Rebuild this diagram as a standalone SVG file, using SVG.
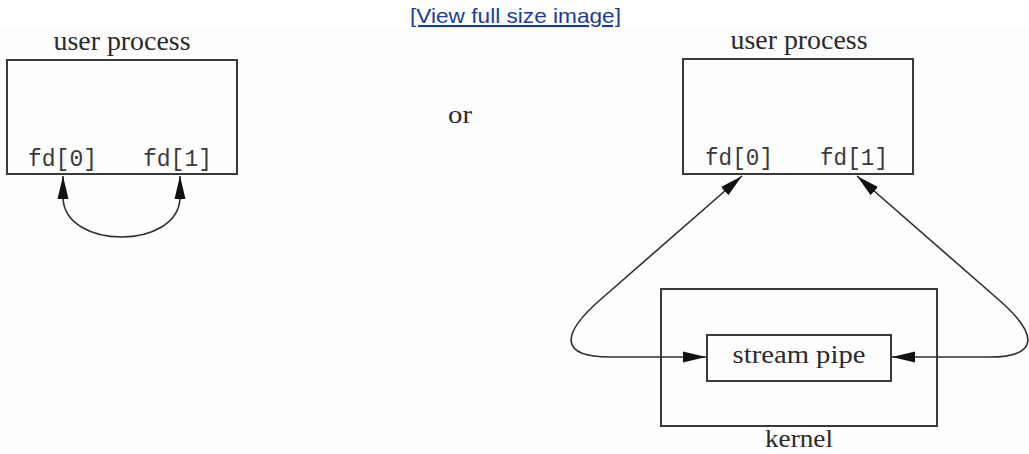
<svg xmlns="http://www.w3.org/2000/svg" width="1029" height="454" viewBox="0 0 1029 454">
<defs>
<style>
.box{fill:none;stroke:#3a3a3a;stroke-width:2}
.ser{font-family:"Liberation Serif","DejaVu Serif",serif;fill:#2a2a2a;text-anchor:middle}
.mono{font-family:"Liberation Mono","DejaVu Sans Mono",monospace;font-size:23px;fill:#3a3a3a}
.conn{fill:none;stroke:#2f2f2f;stroke-width:1.6}
.link{font-family:"Liberation Sans",Arial,sans-serif;font-size:21px;fill:#1a3d9c;text-decoration:underline;text-anchor:middle}
</style>
<marker id="ah" markerUnits="userSpaceOnUse" markerWidth="24" markerHeight="12" viewBox="0 0 24 12" refX="23" refY="6" orient="auto-start-reverse">
<path d="M0,0.5 L23,6 L0,11.5 z" fill="#111"/>
</marker>
</defs>
<rect x="0" y="0" width="1029" height="454" fill="#ffffff"/>
<rect x="0" y="29" width="1029" height="425" fill="#fdfdfd"/>
<text id="link" class="link" x="515.5" y="23" textLength="211" lengthAdjust="spacingAndGlyphs">[View full size image]</text>

<g id="left-process">
<text class="ser" x="122" y="50" font-size="27" textLength="137" lengthAdjust="spacingAndGlyphs">user process</text>
<rect class="box" x="7" y="60" width="230" height="114"/>
<text class="mono" x="28" y="166" textLength="69" lengthAdjust="spacingAndGlyphs">fd[0]</text>
<text class="mono" x="143" y="166" textLength="69" lengthAdjust="spacingAndGlyphs">fd[1]</text>
</g>

<text id="or" class="ser" x="460" y="123" font-size="26" textLength="24" lengthAdjust="spacingAndGlyphs">or</text>

<g id="right-process">
<text class="ser" x="799" y="49" font-size="27" textLength="137" lengthAdjust="spacingAndGlyphs">user process</text>
<rect class="box" x="683" y="59" width="230" height="115"/>
<text class="mono" x="705" y="165" textLength="68" lengthAdjust="spacingAndGlyphs">fd[0]</text>
<text class="mono" x="820" y="165" textLength="68" lengthAdjust="spacingAndGlyphs">fd[1]</text>
</g>

<g id="kernel">
<rect class="box" x="661" y="289" width="276" height="137"/>
<text class="ser" x="799" y="447" font-size="26" textLength="68" lengthAdjust="spacingAndGlyphs">kernel</text>
</g>

<g id="stream-pipe">
<rect class="box" x="707" y="335" width="184" height="46"/>
<text class="ser" x="799" y="363" font-size="26" textLength="133" lengthAdjust="spacingAndGlyphs">stream pipe</text>
</g>

<g id="connectors">
<path class="conn" d="M63,176 L63,198 C65,250 178,250 180,198 L180,176" marker-start="url(#ah)" marker-end="url(#ah)"/>
<path class="conn" d="M742,176 L600,300 C560,335 560,357 610,357 L706,357" marker-start="url(#ah)" marker-end="url(#ah)"/>
<path class="conn" d="M857,176 L999,300 C1039,335 1039,357 989,357 L892,357" marker-start="url(#ah)" marker-end="url(#ah)"/>
</g>
</svg>
